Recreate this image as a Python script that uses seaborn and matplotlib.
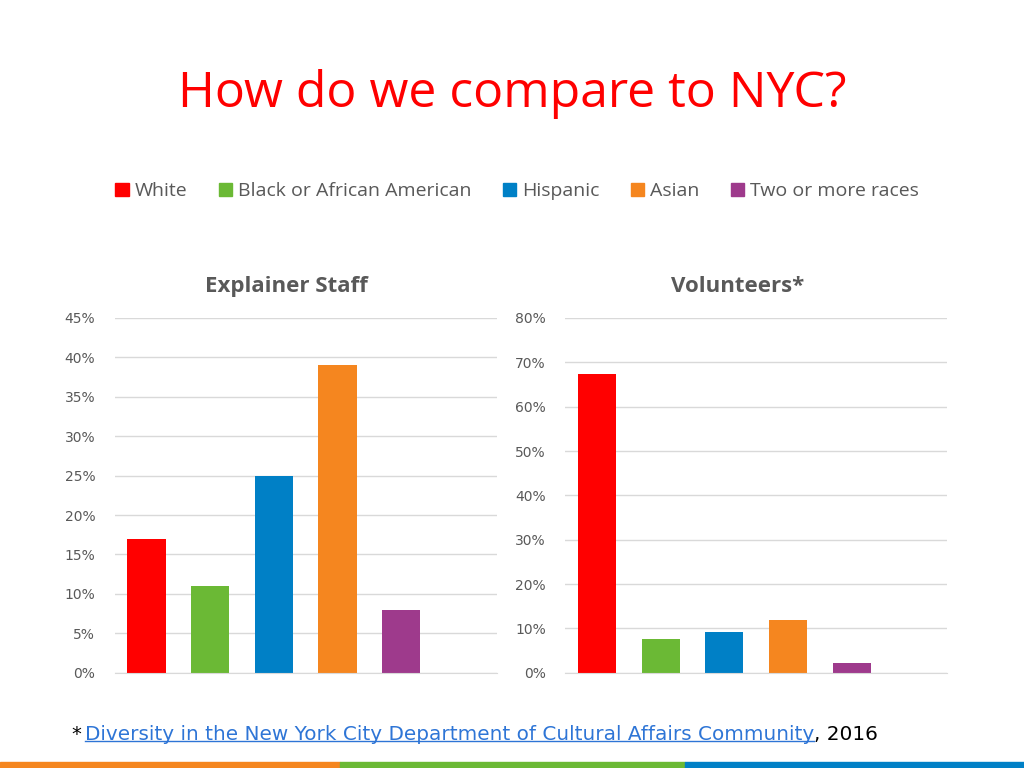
import pandas as pd
import seaborn as sns
import matplotlib.pyplot as plt
from matplotlib.patches import Patch, Rectangle
from matplotlib.ticker import FuncFormatter

categories = ["White", "Black or African American", "Hispanic", "Asian", "Two or more races"]
explainer = [17, 11, 25, 39, 8]
volunteers = [67.3, 7.6, 9.1, 11.8, 2.1]
colors = ["#FF0000", "#6BB935", "#0080C6", "#F5861F", "#9E3A8C"]

fig = plt.figure(figsize=(10.24, 7.68), dpi=100)
fig.text(0.5, 0.877, "How do we compare to NYC?", color="#FF0000", fontsize=36,
         ha="center", va="center", family="Open Sans")

handles = [Patch(color=c) for c in colors]
fig.legend(handles, categories, loc="center", bbox_to_anchor=(0.505, 0.751), ncol=5,
           frameon=False, prop={"family": "Open Sans", "size": 14}, handlelength=0.7,
           handleheight=0.7, columnspacing=1.6, handletextpad=0.3, labelcolor="#595959")

panels = [("Explainer Staff", explainer, 45, 5, [0.112, 0.124, 0.373, 0.462]),
          ("Volunteers*", volunteers, 80, 10, [0.552, 0.124, 0.373, 0.462])]
for title, vals, top, step, rect in panels:
    ax = fig.add_axes(rect)
    df = pd.DataFrame({"cat": categories, "val": vals})
    sns.barplot(data=df, x="cat", y="val", hue="cat", palette=colors, legend=False,
                width=0.6, saturation=1, ax=ax, order=categories)
    ax.set_xlim(-0.5, 5.5)
    ax.set_ylim(0, top)
    ax.set_yticks(range(0, top + 1, step))
    ax.yaxis.set_major_formatter(FuncFormatter(lambda v, p: f"{v:.0f}%"))
    ax.grid(axis="y", color="#D9D9D9", lw=1)
    ax.set_axisbelow(True)
    for s in ax.spines.values():
        s.set_visible(False)
    ax.spines["bottom"].set_visible(True)
    ax.spines["bottom"].set_color("#D9D9D9")
    ax.set_xticks([])
    ax.set_xlabel("")
    ax.set_ylabel("")
    ax.tick_params(axis="y", length=0, labelsize=10, labelcolor="#595959", pad=14)
    ax.set_title(title, fontsize=16, fontweight="bold", color="#595959", pad=19,
                 family="Open Sans", x=0.45)

fig.text(0.07, 0.043, "*", fontsize=14, va="center")
link = fig.text(0.083, 0.043, "Diversity in the New York City Department of Cultural Affairs Community",
                fontsize=14.4, va="center", color="#2E75D6", family="DejaVu Sans")
fig.canvas.draw()
bb = link.get_window_extent().transformed(fig.transFigure.inverted())
fig.add_artist(plt.Line2D([bb.x0, bb.x1], [bb.y0 + 0.005, bb.y0 + 0.005], color="#2E75D6", lw=1))
fig.text(bb.x1, 0.043, ", 2016", fontsize=14.4, va="center")

for x0, w, c in [(0, 0.332, "#F5861F"), (0.332, 0.337, "#6BB935"), (0.669, 0.331, "#0080C6")]:
    fig.add_artist(Rectangle((x0, 0), w, 0.008, color=c, transform=fig.transFigure))

fig.savefig("out.png", dpi=100)
